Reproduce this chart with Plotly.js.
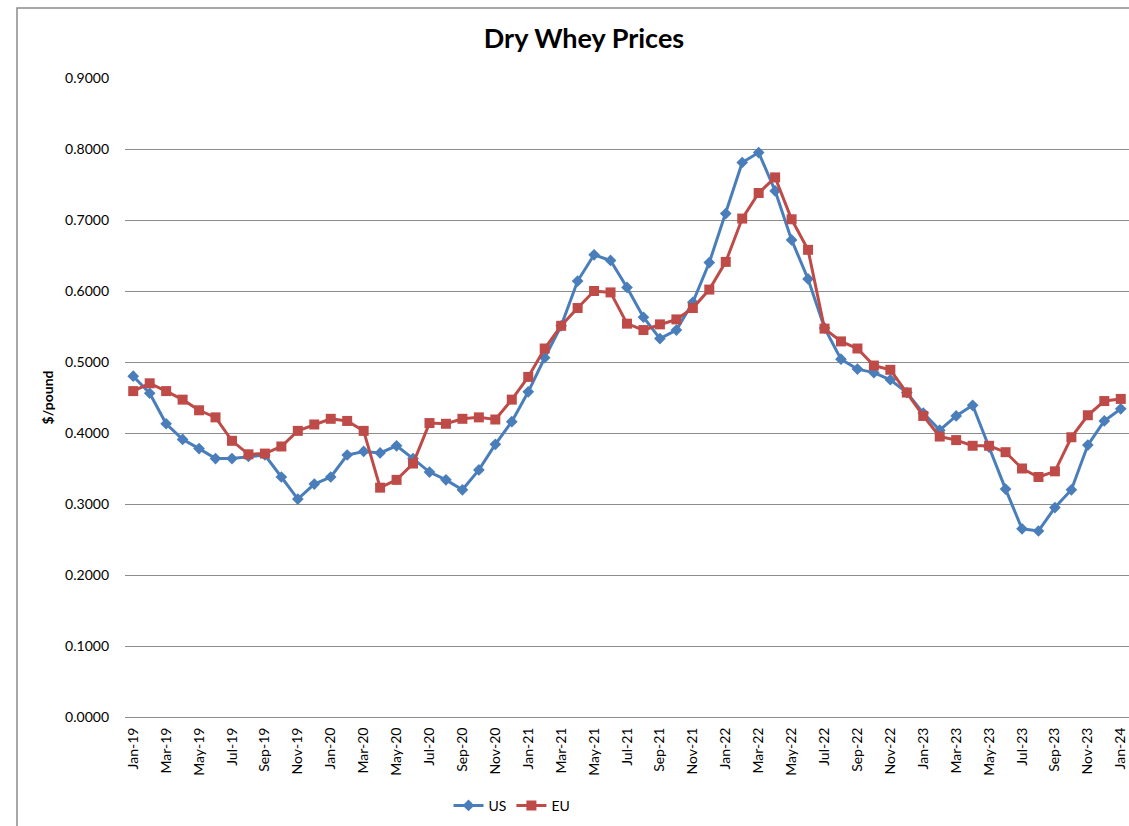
<!DOCTYPE html>
<html>
<head>
<meta charset="utf-8">
<script src="https://cdn.plot.ly/plotly-3.0.1.min.js"></script>
<style>
  html, body { margin: 0; padding: 0; background: #fff; }
  #chart { width: 1129px; height: 826px; }
</style>
</head>
<body>
<div id="chart"></div>
<script>
const months = [
  "Jan-19","Feb-19","Mar-19","Apr-19","May-19","Jun-19","Jul-19","Aug-19","Sep-19","Oct-19","Nov-19","Dec-19",
  "Jan-20","Feb-20","Mar-20","Apr-20","May-20","Jun-20","Jul-20","Aug-20","Sep-20","Oct-20","Nov-20","Dec-20",
  "Jan-21","Feb-21","Mar-21","Apr-21","May-21","Jun-21","Jul-21","Aug-21","Sep-21","Oct-21","Nov-21","Dec-21",
  "Jan-22","Feb-22","Mar-22","Apr-22","May-22","Jun-22","Jul-22","Aug-22","Sep-22","Oct-22","Nov-22","Dec-22",
  "Jan-23","Feb-23","Mar-23","Apr-23","May-23","Jun-23","Jul-23","Aug-23","Sep-23","Oct-23","Nov-23","Dec-23",
  "Jan-24"
];

const usPrices = [
  0.480,0.456,0.413,0.391,0.378,0.364,0.364,0.367,0.369,0.338,0.307,0.328,
  0.338,0.369,0.374,0.372,0.382,0.364,0.345,0.334,0.320,0.348,0.384,0.416,
  0.458,0.506,0.551,0.614,0.651,0.643,0.605,0.563,0.533,0.545,0.584,0.640,
  0.709,0.781,0.795,0.741,0.672,0.617,0.548,0.504,0.490,0.485,0.475,0.457,
  0.428,0.404,0.424,0.439,0.380,0.321,0.265,0.262,0.295,0.320,0.383,0.417,
  0.434
];

const euPrices = [
  0.459,0.470,0.459,0.447,0.432,0.422,0.389,0.370,0.371,0.381,0.403,0.412,
  0.420,0.417,0.403,0.323,0.334,0.357,0.414,0.413,0.420,0.422,0.419,0.447,
  0.479,0.519,0.551,0.576,0.600,0.598,0.554,0.545,0.553,0.560,0.576,0.602,
  0.641,0.702,0.738,0.760,0.701,0.658,0.547,0.529,0.519,0.495,0.489,0.457,
  0.424,0.395,0.390,0.382,0.382,0.373,0.350,0.338,0.346,0.394,0.425,0.445,
  0.448
];

const seriesNames = ["US", "EU"];
const yTicks = [0, 0.1, 0.2, 0.3, 0.4, 0.5, 0.6, 0.7, 0.8, 0.9];
const xTicks = months.filter((m, i) => i % 2 === 0);

const FONT = "Lato, 'Open Sans', 'Liberation Sans', sans-serif";

const traces = [
  {
    x: months, y: usPrices, name: seriesNames[0], type: "scatter", mode: "lines+markers",
    line: { color: "#4A7EBB", width: 3 },
    marker: { symbol: "diamond", size: 9, color: "#4A7EBB" }
  },
  {
    x: months, y: euPrices, name: seriesNames[1], type: "scatter", mode: "lines+markers",
    line: { color: "#BE4B48", width: 3 },
    marker: { symbol: "square", size: 10, color: "#BE4B48" }
  }
];

const layout = {
  width: 1129, height: 826,
  paper_bgcolor: "#ffffff", plot_bgcolor: "#ffffff",
  margin: { l: 125, r: 0, t: 78, b: 109, pad: 0 },
  font: { family: FONT, size: 14, color: "#000000" },
  title: {
    text: "<b>Dry Whey Prices</b>",
    font: { family: FONT, size: 27, color: "#000000" },
    x: 584 / 1129, xref: "container", xanchor: "center",
    y: 40, yref: "container", yanchor: "middle"
  },
  showlegend: true,
  legend: {
    orientation: "h", x: (512 - 125) / 1004, xanchor: "center", y: -0.139, yanchor: "middle",
    font: { family: FONT, size: 14, color: "#000000" },
    itemwidth: 30, tracegroupgap: 0, bgcolor: "rgba(0,0,0,0)"
  },
  xaxis: {
    type: "category",
    range: [-0.5, 60.5],
    tickmode: "array", tickvals: xTicks, ticktext: xTicks,
    tickangle: -90,
    tickfont: { family: FONT, size: 14, color: "#000000" },
    ticks: "", showgrid: false, zeroline: false,
    showline: true, linecolor: "#8C8C8C", linewidth: 1,
    ticklabelstandoff: 4,
    fixedrange: true
  },
  yaxis: {
    range: [0, 0.9],
    tickmode: "array", tickvals: yTicks,
    tickformat: ".4f",
    tickfont: { family: FONT, size: 14, color: "#000000" },
    ticks: "", showgrid: true, gridcolor: "#8C8C8C", gridwidth: 1,
    zeroline: false, showline: false,
    ticklabelstandoff: 15,
    title: { text: "<b>$/pound</b>", font: { family: FONT, size: 14, color: "#000000" }, standoff: 8 },
    fixedrange: true
  },
  shapes: [
    {
      type: "rect", xref: "paper", yref: "paper",
      x0: (17 - 125) / 1004, x1: 1.05, y0: -0.3, y1: 1 + (78 - 8) / 639,
      line: { color: "#8C8C8C", width: 1.5 }, fillcolor: "rgba(0,0,0,0)", layer: "below"
    }
  ]
};

Plotly.newPlot("chart", traces, layout, { displayModeBar: false, staticPlot: true });
</script>
</body>
</html>
